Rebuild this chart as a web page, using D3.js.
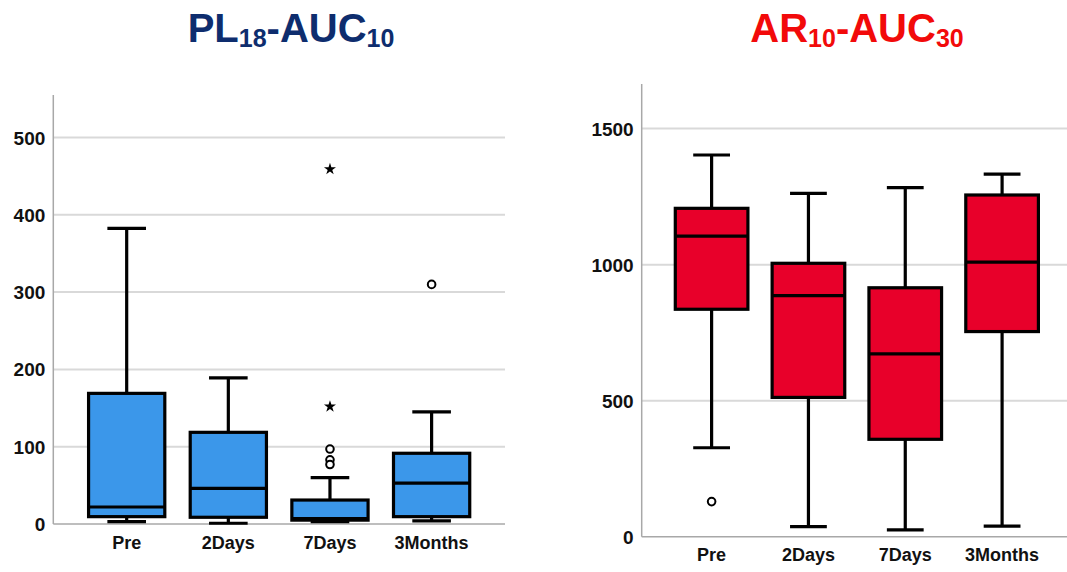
<!DOCTYPE html>
<html><head><meta charset="utf-8">
<script src="https://cdn.jsdelivr.net/npm/d3@7"></script>
<style>
body{margin:0;background:#fff;}
text{font-family:"Liberation Sans",Arial,sans-serif;font-weight:bold;}
</style></head>
<body><svg id="c" width="1067" height="572"></svg>
<script>
const categories = ["Pre","2Days","7Days","3Months"];
// PL18-AUC10 : whisker/box statistics per category
const plMin    = [3, 1, 3, 4];
const plQ1     = [9.5, 8.7, 5, 9.5];
const plMedian = [22, 46, 7, 53];
const plQ3     = [169, 118.6, 31, 91.5];
const plMax    = [382.5, 189, 60, 145];
const plOutCircles = [["7Days",97],["7Days",83],["7Days",77],["3Months",310]];
const plOutStars   = [["7Days",459],["7Days",152]];
const plTicks = [0,100,200,300,400,500];

// AR10-AUC30
const arMin    = [327, 37, 25, 39];
const arQ1     = [836, 512, 358, 754];
const arMedian = [1105, 886, 672, 1009];
const arQ3     = [1207, 1005, 915, 1256];
const arMax    = [1403, 1262, 1283, 1333];
const arOutCircles = [["Pre",129]];
const arOutStars   = [];
const arTicks = [0,500,1000,1500];

const svg = d3.select("#c");

function drawPanel(cfg){
  const g = svg.append("g");
  const x = d3.scalePoint().domain(categories).range([cfg.left, cfg.right]).padding(0.722);
  const y = d3.scaleLinear().domain([0, cfg.ymax]).range([cfg.bottom, cfg.top]);
  const step = x.step();
  const bw = step*0.75, cw = step*0.38;
  g.selectAll(".grid").data(cfg.ticks.filter(t=>t>0)).join("line")
    .attr("x1", cfg.left).attr("x2", cfg.gridEnd)
    .attr("y1", d=>y(d)).attr("y2", d=>y(d))
    .attr("stroke","#d9d9d9").attr("stroke-width",2);
  g.append("line").attr("x1",cfg.left).attr("x2",cfg.left).attr("y1",cfg.top).attr("y2",cfg.bottom)
    .attr("stroke","#a8a8a8").attr("stroke-width",1.5);
  g.append("line").attr("x1",cfg.left).attr("x2",cfg.gridEnd).attr("y1",cfg.bottom).attr("y2",cfg.bottom)
    .attr("stroke","#a8a8a8").attr("stroke-width",1.5);
  g.selectAll(".yl").data(cfg.ticks).join("text")
    .attr("x", cfg.left-8).attr("y", d=>y(d)+7)
    .attr("text-anchor","end").attr("font-size",19).attr("fill","#111").text(d=>d);
  g.selectAll(".xl").data(categories).join("text")
    .attr("x", d=>x(d)).attr("y", cfg.bottom+cfg.xlabOff)
    .attr("text-anchor","middle").attr("font-size",18).attr("fill","#111").text(d=>d);
  const rows = categories.map((c,i)=>({c, lo:cfg.min[i], q1:cfg.q1[i], med:cfg.med[i], q3:cfg.q3[i], hi:cfg.max[i]}));
  const bx = g.selectAll(".bx").data(rows).join("g");
  const sw = 3.2;
  bx.append("line").attr("x1",d=>x(d.c)).attr("x2",d=>x(d.c)).attr("y1",d=>y(d.hi)).attr("y2",d=>y(d.q3))
    .attr("stroke","#000").attr("stroke-width",sw);
  bx.append("line").attr("x1",d=>x(d.c)).attr("x2",d=>x(d.c)).attr("y1",d=>y(d.lo)).attr("y2",d=>y(d.q1))
    .attr("stroke","#000").attr("stroke-width",sw);
  bx.append("line").attr("x1",d=>x(d.c)-cw/2).attr("x2",d=>x(d.c)+cw/2).attr("y1",d=>y(d.hi)).attr("y2",d=>y(d.hi))
    .attr("stroke","#000").attr("stroke-width",sw);
  bx.append("line").attr("x1",d=>x(d.c)-cw/2).attr("x2",d=>x(d.c)+cw/2).attr("y1",d=>y(d.lo)).attr("y2",d=>y(d.lo))
    .attr("stroke","#000").attr("stroke-width",sw);
  bx.append("rect").attr("x",d=>x(d.c)-bw/2).attr("width",bw)
    .attr("y",d=>y(d.q3)).attr("height",d=>y(d.q1)-y(d.q3))
    .attr("fill",cfg.fill).attr("stroke","#000").attr("stroke-width",sw);
  bx.append("line").attr("x1",d=>x(d.c)-bw/2).attr("x2",d=>x(d.c)+bw/2).attr("y1",d=>y(d.med)).attr("y2",d=>y(d.med))
    .attr("stroke","#000").attr("stroke-width",sw);
  g.selectAll(".oc").data(cfg.circles).join("circle")
    .attr("cx",d=>x(d[0])).attr("cy",d=>y(d[1])).attr("r",3.8)
    .attr("fill","#fff").attr("stroke","#000").attr("stroke-width",2);
  g.selectAll(".os").data(cfg.stars).join("path")
    .attr("d", d3.symbol(d3.symbolStar, 45))
    .attr("transform",d=>`translate(${x(d[0])},${y(d[1])})`).attr("fill","#000");
  const t = g.append("text").attr("x", cfg.titleX).attr("y", 42).attr("text-anchor","middle")
    .attr("font-size",40).attr("fill",cfg.titleColor);
  cfg.title.forEach(p=>{
    const ts = t.append("tspan").text(p[0]);
    if(p[1]) ts.attr("font-size",25).attr("dy",5); else ts.attr("dy", p[2]||0);
  });
}

drawPanel({left:53.3, right:505, gridEnd:505, top:95, bottom:524, ymax:555, xlabOff:25,
  ticks:plTicks, min:plMin, q1:plQ1, med:plMedian, q3:plQ3, max:plMax,
  circles:plOutCircles, stars:plOutStars, fill:"#3b97ea",
  titleX:291, titleColor:"#0e2d6e", title:[["PL",false],["18",true],["-AUC",false,-5],["10",true]]});
drawPanel({left:641.7, right:1072, gridEnd:1067, top:84, bottom:536.7, ymax:1664, xlabOff:24,
  ticks:arTicks, min:arMin, q1:arQ1, med:arMedian, q3:arQ3, max:arMax,
  circles:arOutCircles, stars:arOutStars, fill:"#e8002a",
  titleX:857, titleColor:"#f20a0a", title:[["AR",false],["10",true],["-AUC",false,-5],["30",true]]});
</script></body></html>
